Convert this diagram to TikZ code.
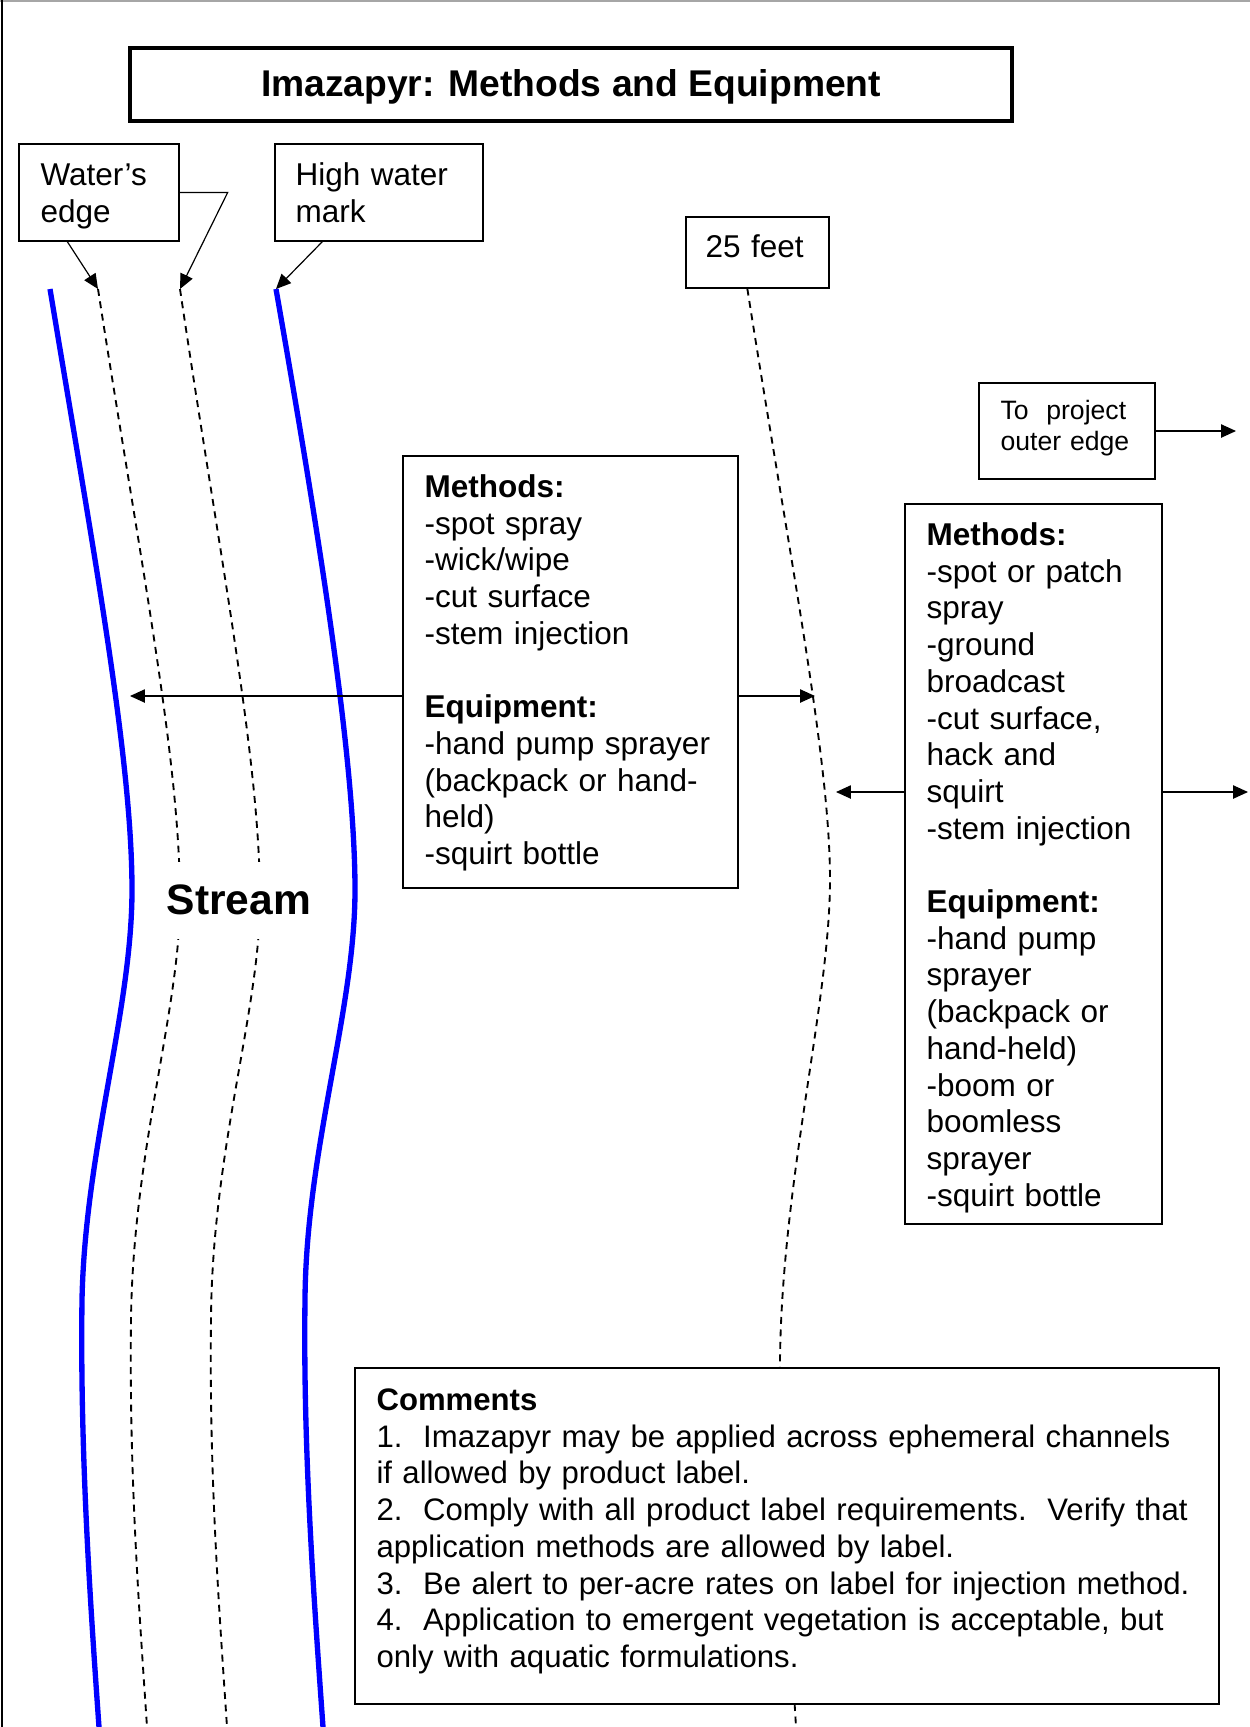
\documentclass[tikz,border=0pt]{standalone}
\usepackage{fontspec}
\setmainfont{Liberation Sans}
\usetikzlibrary{arrows.meta,fit,calc}
\begin{document}
\begin{tikzpicture}[x=0.376pt,y=-0.376pt,
  bx/.style={draw, line width=0.5pt, inner sep=0pt, fill=white},
  txt/.style={anchor=north west, inner sep=0pt, align=left, font=\fontsize{11.85pt}{13.8pt}\selectfont},
  arr/.style={line width=0.45pt, -{Triangle[length=5.6pt,width=5pt]}},
  bank/.style={blue, line width=2pt},
  dashline/.style={line width=0.7pt, dash pattern=on 2.6pt off 2.1pt},
]
\useasboundingbox (0,0) rectangle (1250,1727);
\draw[gray!70, line width=0.6pt] (0,1) -- (1250,1);
\draw[line width=0.75pt] (2,0) -- (2,1727);

% named coordinates
\coordinate (b1top) at (50,289);
\coordinate (b2top) at (276,289);
\coordinate (d1top) at (98,289);
\coordinate (d2top) at (180,289);

% stream banks
\draw[bank] (b1top) .. controls (95,560) and (132,760) .. (132,890)
  .. controls (132,1010) and (85,1150) .. (82,1300)
  .. controls (80,1450) and (90,1600) .. (99,1727);
\draw[bank] (b2top) .. controls (320,540) and (355,760) .. (355,890)
  .. controls (355,1010) and (306,1150) .. (305,1300)
  .. controls (303,1450) and (314,1600) .. (323,1727);

% water's edge dashed lines
\draw[dashline] (d1top) .. controls (140,560) and (180,760) .. (180,900)
  .. controls (180,1010) and (133,1150) .. (131,1320)
  .. controls (129,1480) and (140,1620) .. (147,1727);
\draw[dashline] (d2top) .. controls (220,560) and (260,760) .. (260,900)
  .. controls (260,1010) and (212,1150) .. (211,1320)
  .. controls (209,1480) and (220,1620) .. (227,1727);

% title
\node[bx, line width=1.25pt, fit={(130,48) (1012,121)}] (titlebox) {};
\node[anchor=base, inner sep=0pt, font=\fontsize{14pt}{16pt}\selectfont\bfseries] (title) at (571,96.5) {Imazapyr: Methods and Equipment};

% labels
\node[bx, fit={(19,144) (179,241)}] (we) {};
\node[txt, text width=50pt] (wet) at (40,159.3) {\strut Water’s\\edge};
\node[bx, fit={(275,144) (483,241)}] (hw) {};
\node[txt, text width=70pt] (hwt) at (295,159.3) {\strut High water\\mark};
\node[bx, fit={(686,217) (829,288)}] (ft) {};
\node[txt, text width=45pt] (ftt) at (705,231.3) {\strut 25 feet};
\coordinate (ftb) at ($(ft.south west)+(62,0)$);

% 25 feet line
\draw[dashline] (ftb) .. controls (790,560) and (830,760) .. (830,880)
  .. controls (830,1000) and (782,1180) .. (780,1360)
  .. controls (778,1500) and (790,1620) .. (796,1727);

% label arrows
\draw[arr] ($(we.south west)+(49,0)$) -- (d1top);
\draw[arr] (we.east) -- ($(we.east)+(48,0)$) -- (d2top);
\draw[arr] ($(hw.south west)+(48,0)$) -- (b2top);

% stream label
\node[anchor=base, inner xsep=1pt, inner ysep=0pt, fill=white, text height=19.5pt, text depth=9.4pt, font=\fontsize{16pt}{19pt}\selectfont\bfseries] (stream) at (239,914) {Stream};

% to project
\node[bx, fit={(979,383) (1155,479)}] (tp) {};
\node[txt, font=\fontsize{10pt}{11.5pt}\selectfont, text width=60pt] (tpt) at (1000,397.6) {\strut To~~project\\outer edge};
\coordinate (r3) at (1236,431);
\draw[arr] (tp.east) -- (r3);

% methods box 1
\node[bx, fit={(403,456) (738,888)}] (m1) {};
\node[txt, text width=125pt] (m1t) at (424,471.3) {\strut\textbf{Methods:}\\-spot spray\\-wick/wipe\\-cut surface\\-stem injection\\[13.8pt]\textbf{Equipment:}\\-hand pump sprayer\\(backpack or hand-\\held)\\-squirt bottle};
\coordinate (l1) at (130,696);
\coordinate (r1) at (815,696);
\draw[arr] (m1.west |- l1) -- (l1);
\draw[arr] (m1.east |- r1) -- (r1);

% methods box 2
\node[bx, fit={(905,504) (1162,1224)}] (m2) {};
\node[txt, text width=85pt] (m2t) at (926,519.3) {\strut\textbf{Methods:}\\-spot or patch\\spray\\-ground\\broadcast\\-cut surface,\\hack and\\squirt\\-stem injection\\[13.8pt]\textbf{Equipment:}\\-hand pump\\sprayer\\(backpack or\\hand-held)\\-boom or\\boomless\\sprayer\\-squirt bottle};
\coordinate (l2) at (836,792);
\coordinate (r2) at (1248,792);
\draw[arr] (m2.west |- l2) -- (l2);
\draw[arr] (m2.east |- r2) -- (r2);

% comments
\node[bx, fit={(355,1368) (1219,1704)}] (cm) {};
\node[txt, font=\fontsize{11.7pt}{13.8pt}\selectfont, text width=330pt] (cmt) at (376,1384.3) {\strut\textbf{Comments}\\1.~~Imazapyr may be applied across ephemeral channels\\if allowed by product label.\\2.~~Comply with all product label requirements.~~Verify that\\application methods are allowed by label.\\3.~~Be alert to per-acre rates on label for injection method.\\4.~~Application to emergent vegetation is acceptable, but\\only with aquatic formulations.};
\end{tikzpicture}
\end{document}
